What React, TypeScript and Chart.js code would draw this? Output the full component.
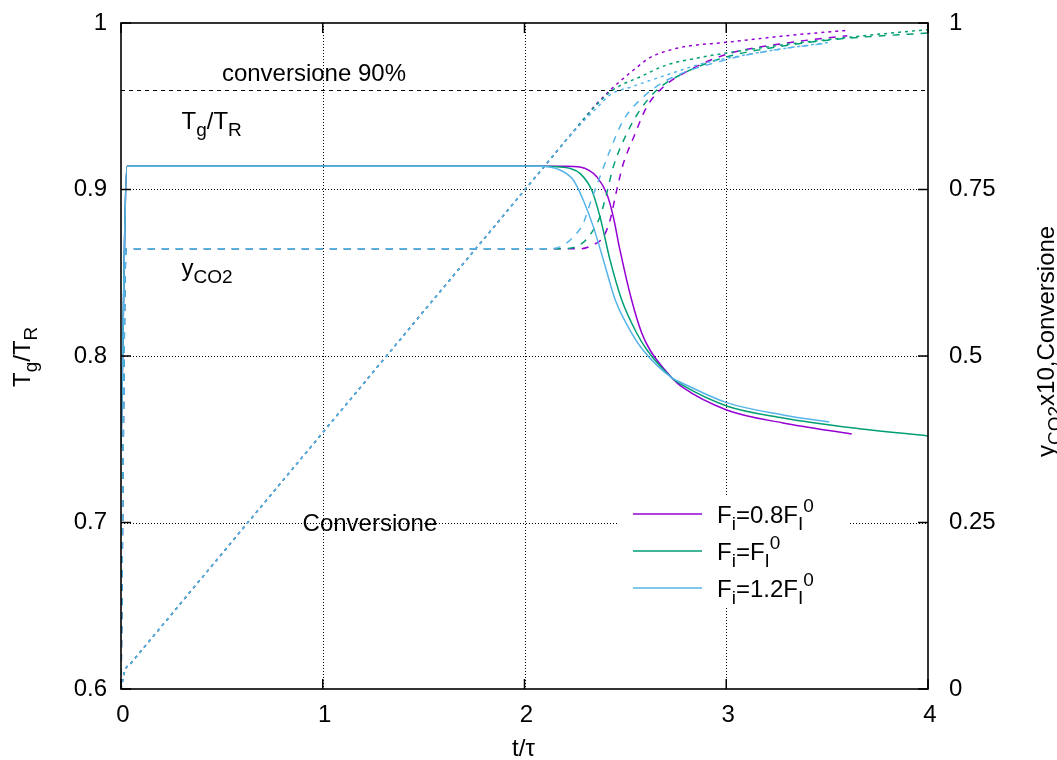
import { useEffect, useRef } from "react";
import { Chart, registerables } from "chart.js";

Chart.register(...registerables);

const FONT = '"Liberation Sans", Arial, Helvetica, sans-serif';

// Feed-rate cases: F_i = 0.8, 1.0, 1.2 × F_I^0
const seriesColors = ["#9400d3", "#009e73", "#56b4e9"];
const feedFactors = ["0.8", "", "1.2"];

// Gas temperature T_g/T_R (left axis)
const tempTime08 = [0, 0.03, 1, 2, 2.2, 2.275, 2.32, 2.358, 2.407, 2.44, 2.473, 2.531, 2.581, 2.622, 2.731, 2.781, 3.002, 3.281, 3.622];
const temp08 = [0.745, 0.914, 0.914, 0.914, 0.914, 0.9135, 0.9115, 0.9077, 0.8977, 0.8837, 0.8637, 0.8336, 0.8138, 0.8036, 0.7868, 0.7814, 0.7676, 0.7598, 0.7532];
const tempTime10 = [0, 0.03, 1, 2, 2.1, 2.161, 2.226, 2.275, 2.333, 2.374, 2.424, 2.482, 2.556, 2.607, 2.731, 2.781, 3.002, 3.281, 3.622, 4.0];
const temp10 = [0.745, 0.914, 0.914, 0.914, 0.914, 0.9137, 0.9127, 0.9097, 0.8997, 0.8837, 0.8577, 0.8336, 0.8138, 0.8036, 0.7868, 0.7826, 0.77, 0.7628, 0.7569, 0.752];
const tempTime12 = [0, 0.03, 1, 2, 2.077, 2.176, 2.242, 2.291, 2.341, 2.391, 2.45, 2.531, 2.587, 2.731, 2.781, 3.002, 3.281, 3.511];
const temp12 = [0.745, 0.914, 0.914, 0.914, 0.914, 0.9117, 0.9057, 0.8937, 0.8777, 0.8577, 0.8336, 0.8138, 0.8036, 0.7868, 0.7838, 0.772, 0.7646, 0.7604];

// CO2 mole fraction ×10 (right axis)
const co2Time08 = [0, 0.025, 1, 2, 2.275, 2.341, 2.391, 2.424, 2.457, 2.49, 2.539, 2.606, 2.688, 2.804, 3.002, 3.3, 3.6];
const co208 = [0, 0.661, 0.661, 0.661, 0.661, 0.667, 0.679, 0.704, 0.749, 0.789, 0.827, 0.874, 0.904, 0.927, 0.953, 0.97, 0.981];
const co2Time10 = [0, 0.025, 1, 2, 2.176, 2.275, 2.325, 2.374, 2.407, 2.44, 2.507, 2.572, 2.655, 2.771, 3.002, 3.25, 3.56, 4.0];
const co210 = [0, 0.661, 0.661, 0.661, 0.661, 0.667, 0.682, 0.709, 0.744, 0.784, 0.834, 0.869, 0.899, 0.922, 0.949, 0.964, 0.976, 0.985];
const co2Time12 = [0, 0.025, 1, 2, 2.126, 2.19, 2.242, 2.291, 2.325, 2.374, 2.424, 2.49, 2.589, 2.705, 3.002, 3.25, 3.51];
const co212 = [0, 0.661, 0.661, 0.661, 0.661, 0.666, 0.679, 0.699, 0.729, 0.769, 0.809, 0.854, 0.889, 0.914, 0.945, 0.96, 0.97];

// Solid conversion (right axis)
const convTime08 = [0, 0.02, 0.05, 1, 2, 2.3, 2.35, 2.424, 2.539, 2.622, 2.705, 2.804, 3.002, 3.3, 3.6];
const conv08 = [0, 0.028, 0.039, 0.385, 0.749, 0.858, 0.876, 0.899, 0.929, 0.948, 0.958, 0.965, 0.971, 0.981, 0.989];
const convTime10 = [0, 0.02, 0.05, 1, 2, 2.25, 2.32, 2.38, 2.44, 2.572, 2.705, 2.85, 3.002, 3.25, 3.5, 3.75, 4.0];
const conv10 = [0, 0.028, 0.039, 0.385, 0.749, 0.84, 0.865, 0.884, 0.9, 0.919, 0.937, 0.947, 0.955, 0.966, 0.975, 0.983, 0.99];
const convTime12 = [0, 0.02, 0.05, 1, 2, 2.2, 2.3, 2.37, 2.424, 2.539, 2.705, 2.87, 3.002, 3.25, 3.51];
const conv12 = [0, 0.028, 0.039, 0.385, 0.749, 0.822, 0.855, 0.876, 0.892, 0.905, 0.922, 0.938, 0.947, 0.96, 0.971];

const conversionTarget = 0.9;

const tempSeries = [[tempTime08, temp08], [tempTime10, temp10], [tempTime12, temp12]];
const co2Series = [[co2Time08, co208], [co2Time10, co210], [co2Time12, co212]];
const convSeries = [[convTime08, conv08], [convTime10, conv10], [convTime12, conv12]];

const pts = (xs: number[], ys: number[]) => xs.map((x, i) => ({ x, y: ys[i] }));

type Run = [string, number]; // text, 0 normal / 1 subscript / 2 superscript

function drawRuns(ctx: CanvasRenderingContext2D, runs: Run[], x: number, y: number) {
  let cx = x;
  for (const [t, m] of runs) {
    ctx.font = `${m === 0 ? 24 : 19}px ${FONT}`;
    const dy = m === 1 ? 7 : m === 2 ? -11 : 0;
    ctx.fillText(t, cx, y + dy);
    cx += ctx.measureText(t).width;
  }
  return cx - x;
}

const annotate = {
  id: "annotate",
  beforeDraw(chart: any) {
    const { ctx, width, height } = chart;
    ctx.save();
    ctx.fillStyle = "#fff";
    ctx.fillRect(0, 0, width, height);
    ctx.restore();
  },
  beforeDatasetsDraw(chart: any) {
    const { ctx, chartArea: a } = chart;
    const sx = chart.scales.x, sy = chart.scales.y, sr = chart.scales.y2;
    ctx.save();
    ctx.strokeStyle = "#000";
    ctx.lineWidth = 1;
    ctx.setLineDash([1, 2]);
    ctx.beginPath();
    sx.ticks.slice(1, -1).forEach((t: any) => {
      const p = Math.round(sx.getPixelForValue(t.value)) + 0.5;
      ctx.moveTo(p, a.top);
      ctx.lineTo(p, a.bottom);
    });
    sy.ticks.slice(1, -1).forEach((t: any) => {
      const p = Math.round(sy.getPixelForValue(t.value)) + 0.5;
      ctx.moveTo(a.left, p);
      ctx.lineTo(a.right, p);
    });
    ctx.stroke();
    ctx.setLineDash([4, 4]);
    const p90 = Math.round(sr.getPixelForValue(conversionTarget)) + 0.5;
    ctx.beginPath();
    ctx.moveTo(a.left, p90);
    ctx.lineTo(a.right, p90);
    ctx.stroke();
    ctx.restore();
  },
  afterDatasetsDraw(chart: any) {
    const { ctx, chartArea: a } = chart;
    const sx = chart.scales.x, sy = chart.scales.y, sr = chart.scales.y2;
    ctx.save();
    ctx.setLineDash([]);
    ctx.strokeStyle = "#000";
    ctx.lineWidth = 1.6;
    ctx.strokeRect(a.left, a.top, a.right - a.left, a.bottom - a.top);

    // inward tick marks
    const tl = 10;
    ctx.lineWidth = 1.5;
    ctx.beginPath();
    sx.ticks.forEach((t: any) => {
      const p = sx.getPixelForValue(t.value);
      ctx.moveTo(p, a.bottom);
      ctx.lineTo(p, a.bottom - tl);
      ctx.moveTo(p, a.top);
      ctx.lineTo(p, a.top + tl);
    });
    sy.ticks.forEach((t: any) => {
      const p = sy.getPixelForValue(t.value);
      ctx.moveTo(a.left, p);
      ctx.lineTo(a.left + tl, p);
    });
    sr.ticks.forEach((t: any) => {
      const p = sr.getPixelForValue(t.value);
      ctx.moveTo(a.right, p);
      ctx.lineTo(a.right - tl, p);
    });
    ctx.stroke();

    // in-plot labels
    ctx.fillStyle = "#000";
    ctx.textAlign = "left";
    ctx.textBaseline = "alphabetic";
    drawRuns(ctx, [["conversione 90%", 0]], sx.getPixelForValue(0.5), sy.getPixelForValue(0.97) + 8);
    drawRuns(ctx, [["T", 0], ["g", 1], ["/", 0], ["T", 0], ["R", 1]], sx.getPixelForValue(0.3), sy.getPixelForValue(0.941) + 8);
    drawRuns(ctx, [["y", 0], ["CO2", 1]], sx.getPixelForValue(0.3), sy.getPixelForValue(0.853) + 8);
    drawRuns(ctx, [["Conversione", 0]], sx.getPixelForValue(0.9), sy.getPixelForValue(0.7) + 8);

    // key
    ctx.fillStyle = "#fff";
    ctx.fillRect(617, 497, 231, 109);
    seriesColors.forEach((c, i) => {
      const y = 514 + i * 37;
      ctx.strokeStyle = c;
      ctx.lineWidth = 1.5;
      ctx.beginPath();
      ctx.moveTo(633, y);
      ctx.lineTo(702, y);
      ctx.stroke();
      ctx.fillStyle = "#000";
      drawRuns(ctx, [["F", 0], ["i", 1], ["=" + feedFactors[i] + "F", 0], ["I", 1], ["0", 2]], 717, y + 8.5);
    });

    // axis titles
    ctx.textAlign = "center";
    ctx.font = `24px ${FONT}`;
    ctx.fillText("t/τ", (a.left + a.right) / 2 - 1, 756);
    ctx.textAlign = "left";

    ctx.save();
    ctx.translate(29.5, 387);
    ctx.rotate(-Math.PI / 2);
    drawRuns(ctx, [["T", 0], ["g", 1], ["/", 0], ["T", 0], ["R", 1]], 0, 0);
    ctx.restore();

    ctx.save();
    ctx.translate(1054, 457);
    ctx.rotate(-Math.PI / 2);
    drawRuns(ctx, [["y", 0], ["CO2", 1], ["x10,Conversione", 0]], 0, 0);
    ctx.restore();

    ctx.restore();
  },
};

function buildDatasets() {
  const out: any[] = [];
  const kinds: [number[][][], string, number[]][] = [
    [tempSeries, "y", []],
    [co2Series, "y2", [7, 7]],
    [convSeries, "y2", [3, 4]],
  ];
  kinds.forEach(([series, axis, dash], k) => {
    series.forEach(([xs, ys], i) => {
      out.push({
        label: ["T_g/T_R", "y_CO2 x10", "Conversione"][k] + " " + (feedFactors[i] || "1.0"),
        data: pts(xs, ys),
        yAxisID: axis,
        borderColor: seriesColors[i],
        backgroundColor: seriesColors[i],
        borderWidth: 1.5,
        borderDash: dash,
        pointRadius: 0,
        fill: false,
        cubicInterpolationMode: "monotone",
        order: 2 - i,
      });
    });
  });
  return out;
}

const tickFont = { family: FONT, size: 24 };
const tickText = (v: any) => String(Math.round(Number(v) * 1000) / 1000);

// fixed axis bands; tick label overhang must not push the plot area
const fixWidth = (w: number) => (s: any) => {
  s.width = w;
  s.paddingTop = 0;
  s.paddingBottom = 0;
};

export default function App() {
  const ref = useRef<HTMLCanvasElement>(null);
  useEffect(() => {
    const canvas = ref.current;
    if (!canvas) return;
    const chart = new Chart(canvas, {
      type: "line",
      data: { datasets: buildDatasets() },
      options: {
        animation: false,
        responsive: false,
        devicePixelRatio: 1,
        events: [],
        layout: { padding: { top: 23, left: 0, right: 0, bottom: 0 } },
        plugins: { legend: { display: false }, tooltip: { enabled: false } },
        scales: {
          x: {
            type: "linear",
            position: "bottom",
            min: 0,
            max: 4,
            ticks: { stepSize: 1, font: tickFont, color: "#000", padding: 12, labelOffset: 2, maxRotation: 0, callback: tickText },
            grid: { display: false, drawTicks: false },
            border: { display: false },
            afterFit: (s: any) => {
              s.height = 71;
              s.paddingLeft = 0;
              s.paddingRight = 0;
            },
          },
          y: {
            type: "linear",
            position: "left",
            min: 0.6,
            max: 1,
            ticks: { stepSize: 0.1, font: tickFont, color: "#000", padding: 14, callback: tickText },
            grid: { display: false, drawTicks: false },
            border: { display: false },
            afterFit: fixWidth(121),
          },
          y2: {
            type: "linear",
            position: "right",
            min: 0,
            max: 1,
            ticks: { stepSize: 0.25, font: tickFont, color: "#000", padding: 21, callback: tickText },
            grid: { display: false, drawTicks: false },
            border: { display: false },
            afterFit: fixWidth(129),
          },
        },
      } as any,
      plugins: [annotate as any],
    });
    return () => chart.destroy();
  }, []);
  return (
    <div style={{ position: "absolute", left: 0, top: 0, width: 1057, height: 760, background: "#fff" }}>
      <canvas ref={ref} width={1057} height={760} style={{ display: "block", width: 1057, height: 760 }} />
    </div>
  );
}
